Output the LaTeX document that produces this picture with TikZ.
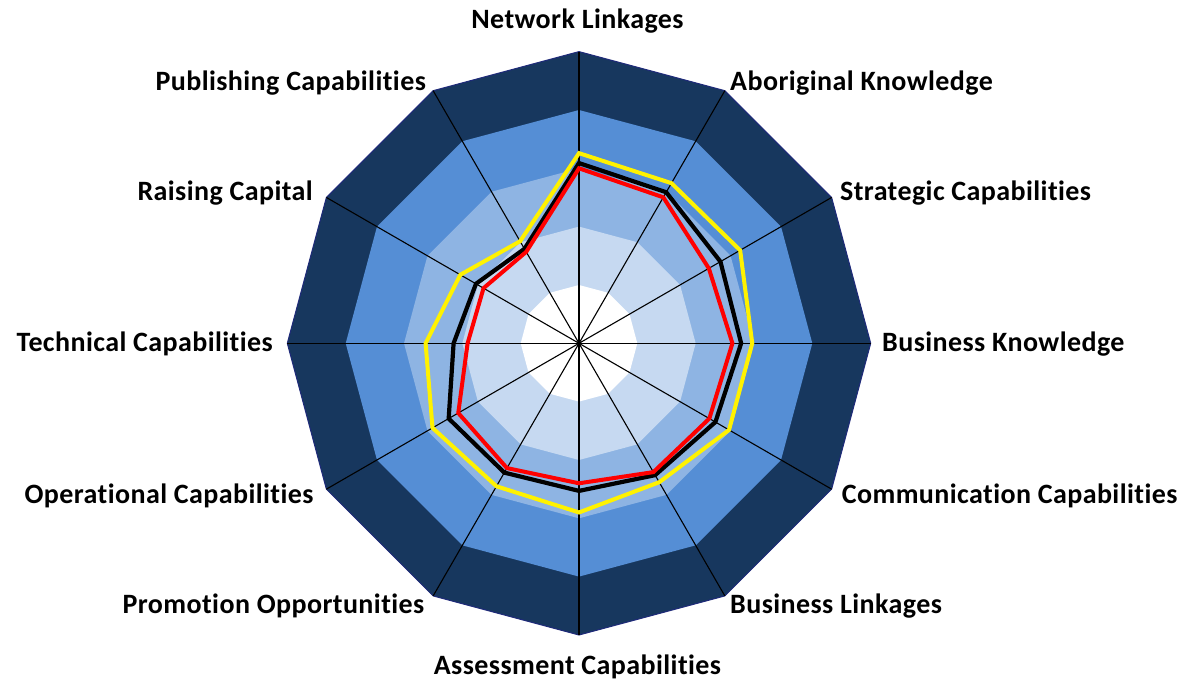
\documentclass[tikz,border=0pt]{standalone}
\usepackage{fontspec}
\setmainfont{Carlito}[RawFeature={-liga}, LetterSpace=1.5]
\definecolor{ringA}{HTML}{17375E}
\definecolor{ringB}{HTML}{558ED5}
\definecolor{ringC}{HTML}{8EB4E3}
\definecolor{ringD}{HTML}{C6D9F1}
\definecolor{rimcol}{HTML}{1F2A7A}
\tikzset{
  lbl/.style={font=\fontsize{28}{32}\selectfont\bfseries, inner sep=0pt},
  axisline/.style={black, line width=1.1pt},
  serieslinea/.style={yellow, line width=4pt, line join=miter},
  serieslineb/.style={black, line width=4.2pt, line join=miter},
  serieslinec/.style={red, line width=4pt, line join=miter},
}
\newcommand{\ringpoly}[1]{%
  (90:#1) -- (60:#1) -- (30:#1) -- (0:#1) -- (-30:#1) -- (-60:#1) -- (-90:#1) -- (-120:#1) -- (-150:#1) -- (180:#1) -- (150:#1) -- (120:#1) -- cycle}
\begin{document}
\begin{tikzpicture}[x=1pt,y=1pt]
\useasboundingbox (0,-681) rectangle (1184,0);
\begin{scope}[shift={(579,-343.3)}]
  \def\u{58.33}
  \fill[ringA] \ringpoly{291.7};
  \fill[ringB] \ringpoly{233.3};
  \fill[ringC] \ringpoly{175};
  \fill[ringD] \ringpoly{116.7};
  \fill[white] \ringpoly{58.3};
  \draw[rimcol, line width=1pt] \ringpoly{291.7};
  \foreach \a in {90,60,30,0,-30,-60,-90,-120,-150,180,150,120}
    \draw[axisline] (0,0) -- (\a:291.7);
  % series
  \draw[serieslinea] (90:3.26*\u) -- (60:3.17*\u) -- (30:3.19*\u) -- (0:2.97*\u) -- (-30:2.97*\u) -- (-60:2.75*\u) -- (-90:2.90*\u) -- (-120:2.83*\u) -- (-150:2.90*\u) -- (180:2.63*\u) -- (150:2.35*\u) -- (120:2.02*\u) -- cycle;
  \draw[serieslineb] (90:3.09*\u) -- (60:2.99*\u) -- (30:2.80*\u) -- (0:2.78*\u) -- (-30:2.70*\u) -- (-60:2.61*\u) -- (-90:2.53*\u) -- (-120:2.56*\u) -- (-150:2.58*\u) -- (180:2.15*\u) -- (150:2.04*\u) -- (120:1.87*\u) -- cycle;
  \draw[serieslinec] (90:3.00*\u) -- (60:2.89*\u) -- (30:2.57*\u) -- (0:2.63*\u) -- (-30:2.58*\u) -- (-60:2.55*\u) -- (-90:2.40*\u) -- (-120:2.47*\u) -- (-150:2.39*\u) -- (180:1.91*\u) -- (150:1.89*\u) -- (120:1.81*\u) -- cycle;
\end{scope}
% labels
\node[lbl, anchor=base] (nl) at (577.5,-28.3) {Network Linkages};
\node[lbl, anchor=base west] (ak) at (730,-90) {Aboriginal Knowledge};
\node[lbl, anchor=base west] (sc) at (840,-200.7) {Strategic Capabilities};
\node[lbl, anchor=base west] (bk) at (882,-351.7) {Business Knowledge};
\node[lbl, anchor=base west] (cc) at (841.7,-503.3) {Communication Capabilities};
\node[lbl, anchor=base west] (bl) at (730,-613.3) {Business Linkages};
\node[lbl, anchor=base] (ac) at (577.5,-674) {Assessment Capabilities};
\node[lbl, anchor=base east] (po) at (424.5,-613.3) {Promotion Opportunities};
\node[lbl, anchor=base east] (oc) at (313.7,-503.3) {Operational Capabilities};
\node[lbl, anchor=base east] (tc) at (273,-351.7) {Technical Capabilities};
\node[lbl, anchor=base east] (rc) at (313,-200.7) {Raising Capital};
\node[lbl, anchor=base east] (pc) at (426,-90) {Publishing Capabilities};
\end{tikzpicture}
\end{document}
